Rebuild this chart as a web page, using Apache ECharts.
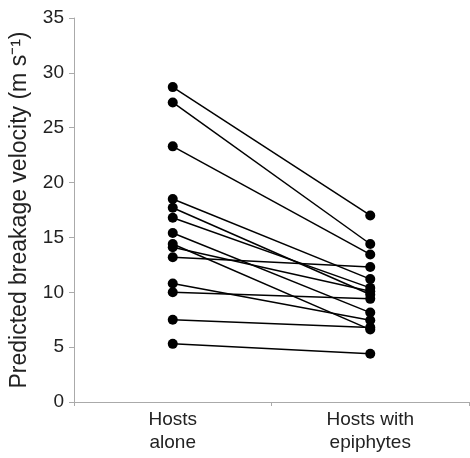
<!DOCTYPE html>
<html>
<head>
<meta charset="utf-8">
<title>Breakage velocity</title>
<script src="https://cdn.jsdelivr.net/npm/echarts@6/dist/echarts.min.js"></script>
<style>
html,body{margin:0;padding:0;background:#fff;}
#chart{width:470px;height:458px;}
</style>
</head>
<body>
<div id="chart"></div>
<script>
var categories = ['Hosts\nalone', 'Hosts with\nepiphytes'];
var hostsAlone = [28.7, 27.3, 23.3, 18.5, 17.7, 16.8, 15.4, 14.4, 14.1, 13.2, 10.8, 10.0, 7.5, 5.3];
var hostsWithEpiphytes = [17.0, 14.4, 13.45, 11.2, 9.8, 10.4, 8.15, 6.6, 10.1, 12.3, 7.45, 9.4, 6.8, 4.4];
var yTicks = [0, 5, 10, 15, 20, 25, 30, 35];

var series = [];
for (var i = 0; i < hostsAlone.length; i++) {
	series.push({
		type: 'line',
		data: [hostsAlone[i], hostsWithEpiphytes[i]],
		symbol: 'circle',
		symbolSize: 10,
		itemStyle: {color: '#000'},
		lineStyle: {color: '#000', width: 1.5},
		silent: true,
		animation: false
	});
}

var chart = echarts.init(document.getElementById('chart'));
chart.setOption({
	animation: false,
	grid: {left: 74, right: 1, top: 18, bottom: 56, containLabel: false},
	xAxis: {
		type: 'category',
		data: categories,
		boundaryGap: true,
		axisLine: {lineStyle: {color: '#aaa', width: 1}},
		axisTick: {show: true, length: 4, lineStyle: {color: '#aaa'}},
		axisLabel: {
			color: '#222',
			fontSize: 19,
			fontFamily: 'Liberation Sans, Arial, sans-serif',
			lineHeight: 23,
			margin: 6
		}
	},
	yAxis: {
		type: 'value',
		min: yTicks[0],
		max: yTicks[yTicks.length - 1],
		interval: 5,
		name: 'Predicted breakage velocity (m s\u207B\u00B9)',
		nameLocation: 'middle',
		nameGap: 43,
		nameTextStyle: {
			color: '#222',
			fontSize: 23,
			fontFamily: 'Liberation Sans, Arial, sans-serif'
		},
		axisLine: {show: true, lineStyle: {color: '#aaa', width: 1}},
		axisTick: {show: true, length: 5, lineStyle: {color: '#aaa'}},
		splitLine: {show: false},
		axisLabel: {
			color: '#222',
			fontSize: 19,
			fontFamily: 'Liberation Sans, Arial, sans-serif',
			margin: 10
		}
	},
	series: series
});
</script>
</body>
</html>
